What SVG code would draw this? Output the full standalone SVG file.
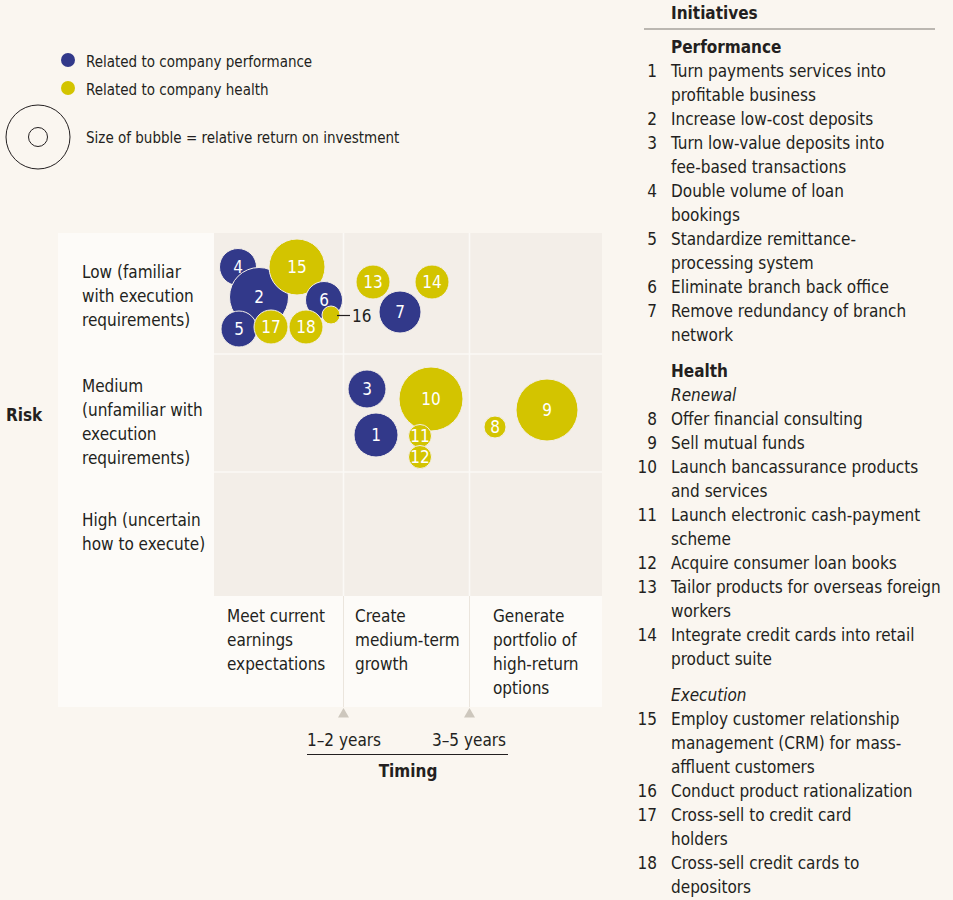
<svg xmlns="http://www.w3.org/2000/svg" width="953" height="900" viewBox="0 0 953 900">
<defs>
<style>
text{font-family:"DejaVu Sans Condensed","Liberation Sans Narrow","Liberation Sans",sans-serif;fill:#231f20;font-size:17px}
.lg{font-size:15px}
.b{font-weight:bold}
.i{font-style:italic}
.n{text-anchor:end}
.perf{fill:#32398a;stroke:#f4efe9;stroke-width:1}
.hlth{fill:#d3c400;stroke:#f4efe9;stroke-width:1}
.bl{fill:#fff;text-anchor:middle;font-size:17px}
.grid{stroke:#fbf9f6;stroke-width:1.5}
.tick{fill:#cdc7bd}
</style>
</defs>
<rect width="953" height="900" fill="#faf6f0"/>
<!-- legend -->
<g id="legend">
<circle cx="68" cy="60" r="7" fill="#32398a"/>
<text class="lg" x="86" y="67">Related to company performance</text>
<circle cx="68" cy="88" r="7" fill="#d3c400"/>
<text class="lg" x="86" y="95">Related to company health</text>
<circle cx="38" cy="137" r="32" fill="none" stroke="#231f20" stroke-width="1"/>
<circle cx="38" cy="137" r="9.5" fill="none" stroke="#231f20" stroke-width="1"/>
<text class="lg" x="86" y="143">Size of bubble = relative return on investment</text>
</g>
<!-- chart panels -->
<g id="panel">
<rect x="58" y="233" width="544" height="474" fill="#fdfbf8"/>
<rect x="214" y="233" width="388" height="363" fill="#f3eee8"/>
<line class="grid" x1="214" y1="354" x2="602" y2="354"/>
<line class="grid" x1="214" y1="472" x2="602" y2="472"/>
<line class="grid" x1="343.5" y1="233" x2="343.5" y2="596"/>
<line class="grid" x1="469.5" y1="233" x2="469.5" y2="596"/>
<line x1="343.5" y1="596" x2="343.5" y2="707" stroke="#ebe5dd" stroke-width="1"/>
<line x1="469.5" y1="596" x2="469.5" y2="707" stroke="#ebe5dd" stroke-width="1"/>
<polygon class="tick" points="343.5,708 338,717.5 349,717.5"/>
<polygon class="tick" points="469.5,708 464,717.5 475,717.5"/>
</g>
<!-- axis labels -->
<g id="risk-labels">
<text class="b" x="6" y="421">Risk</text>
<text x="82" y="278">Low (familiar</text>
<text x="82" y="302">with execution</text>
<text x="82" y="326">requirements)</text>
<text x="82" y="392">Medium</text>
<text x="82" y="416">(unfamiliar with</text>
<text x="82" y="440">execution</text>
<text x="82" y="464">requirements)</text>
<text x="82" y="526">High (uncertain</text>
<text x="82" y="550">how to execute)</text>
</g>
<g id="timing-labels">
<text x="227" y="622">Meet current</text>
<text x="227" y="646">earnings</text>
<text x="227" y="670">expectations</text>
<text x="355" y="622">Create</text>
<text x="355" y="646">medium-term</text>
<text x="355" y="670">growth</text>
<text x="493" y="622">Generate</text>
<text x="493" y="646">portfolio of</text>
<text x="493" y="670">high-return</text>
<text x="493" y="694">options</text>
<text x="344" y="746" text-anchor="middle">1–2 years</text>
<text x="469" y="746" text-anchor="middle">3–5 years</text>
<line x1="307" y1="754.5" x2="508" y2="754.5" stroke="#231f20" stroke-width="1"/>
<text class="b" x="408" y="777" text-anchor="middle">Timing</text>
</g>
<!-- bubbles -->
<g id="b4"><circle class="perf" cx="238" cy="267" r="18.5"/><text class="bl" x="238" y="273">4</text></g>
<g id="b2"><circle class="perf" cx="259" cy="297" r="29.5"/><text class="bl" x="259" y="303">2</text></g>
<g id="b15"><circle class="hlth" cx="297" cy="267" r="28"/><text class="bl" x="297" y="273">15</text></g>
<g id="b6"><circle class="perf" cx="324" cy="300" r="18.5"/><text class="bl" x="324" y="306">6</text></g>
<g id="b16"><circle class="hlth" cx="331" cy="315" r="9"/></g>
<g id="b5"><circle class="perf" cx="239" cy="329" r="18"/><text class="bl" x="239" y="335">5</text></g>
<g id="b17"><circle class="hlth" cx="271" cy="327" r="17"/><text class="bl" x="271" y="333">17</text></g>
<g id="b18"><circle class="hlth" cx="306" cy="327" r="17"/><text class="bl" x="306" y="333">18</text></g>
<g id="b13"><circle class="hlth" cx="373" cy="282" r="17"/><text class="bl" x="373" y="288">13</text></g>
<g id="b14"><circle class="hlth" cx="432" cy="282" r="17"/><text class="bl" x="432" y="288">14</text></g>
<g id="b7"><circle class="perf" cx="400" cy="312" r="21"/><text class="bl" x="400" y="318">7</text></g>
<g id="b3"><circle class="perf" cx="367" cy="389" r="19"/><text class="bl" x="367" y="395">3</text></g>
<g id="b10"><circle class="hlth" cx="431" cy="399" r="32"/><text class="bl" x="431" y="405">10</text></g>
<g id="b1"><circle class="perf" cx="376" cy="435" r="22"/><text class="bl" x="376" y="441">1</text></g>
<g id="b11"><circle class="hlth" cx="420" cy="436" r="11.5"/><text class="bl" x="420" y="442">11</text></g>
<g id="b12"><circle class="hlth" cx="420" cy="457" r="11.5"/><text class="bl" x="420" y="463">12</text></g>
<g id="b8"><circle class="hlth" cx="495" cy="427" r="11"/><text class="bl" x="495" y="433">8</text></g>
<g id="b9"><circle class="hlth" cx="547" cy="410" r="31"/><text class="bl" x="547" y="416">9</text></g>
<g id="connectors">
<line x1="337" y1="315.5" x2="350" y2="315.5" stroke="#231f20" stroke-width="1.2"/>
</g>
<text x="352" y="322">16</text>
<!-- initiatives list -->
<g id="initiatives">
<text class="b" x="671" y="19">Initiatives</text>
<line x1="644" y1="29" x2="935" y2="29" stroke="#7d7872" stroke-width="1.2"/>
<text class="b" x="671" y="53">Performance</text>
<text class="n" x="657" y="77">1</text><text x="671" y="77">Turn payments services into</text>
<text x="671" y="101">profitable business</text>
<text class="n" x="657" y="125">2</text><text x="671" y="125">Increase low-cost deposits</text>
<text class="n" x="657" y="149">3</text><text x="671" y="149">Turn low-value deposits into</text>
<text x="671" y="173">fee-based transactions</text>
<text class="n" x="657" y="197">4</text><text x="671" y="197">Double volume of loan</text>
<text x="671" y="221">bookings</text>
<text class="n" x="657" y="245">5</text><text x="671" y="245">Standardize remittance-</text>
<text x="671" y="269">processing system</text>
<text class="n" x="657" y="293">6</text><text x="671" y="293">Eliminate branch back office</text>
<text class="n" x="657" y="317">7</text><text x="671" y="317">Remove redundancy of branch</text>
<text x="671" y="341">network</text>
<text class="b" x="671" y="377">Health</text>
<text class="i" x="671" y="401">Renewal</text>
<text class="n" x="657" y="425">8</text><text x="671" y="425">Offer financial consulting</text>
<text class="n" x="657" y="449">9</text><text x="671" y="449">Sell mutual funds</text>
<text class="n" x="657" y="473">10</text><text x="671" y="473">Launch bancassurance products</text>
<text x="671" y="497">and services</text>
<text class="n" x="657" y="521">11</text><text x="671" y="521">Launch electronic cash-payment</text>
<text x="671" y="545">scheme</text>
<text class="n" x="657" y="569">12</text><text x="671" y="569">Acquire consumer loan books</text>
<text class="n" x="657" y="593">13</text><text x="671" y="593">Tailor products for overseas foreign</text>
<text x="671" y="617">workers</text>
<text class="n" x="657" y="641">14</text><text x="671" y="641">Integrate credit cards into retail</text>
<text x="671" y="665">product suite</text>
<text class="i" x="671" y="701">Execution</text>
<text class="n" x="657" y="725">15</text><text x="671" y="725">Employ customer relationship</text>
<text x="671" y="749">management (CRM) for mass-</text>
<text x="671" y="773">affluent customers</text>
<text class="n" x="657" y="797">16</text><text x="671" y="797">Conduct product rationalization</text>
<text class="n" x="657" y="821">17</text><text x="671" y="821">Cross-sell to credit card</text>
<text x="671" y="845">holders</text>
<text class="n" x="657" y="869">18</text><text x="671" y="869">Cross-sell credit cards to</text>
<text x="671" y="893">depositors</text>
</g>
</svg>
